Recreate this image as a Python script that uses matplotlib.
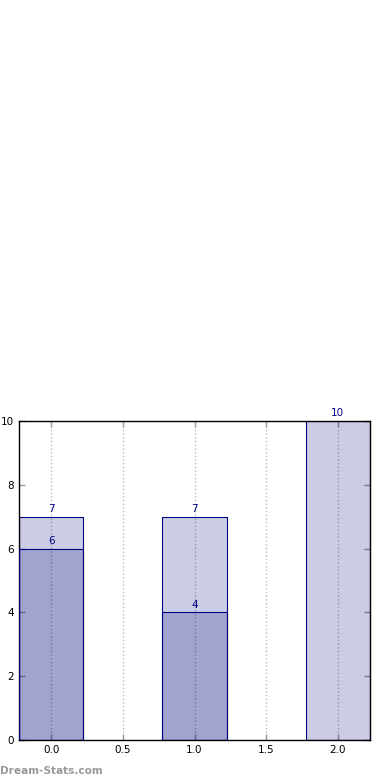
import matplotlib
matplotlib.use("Agg")
import matplotlib.pyplot as plt

positions = [0, 1, 2]
total_values = [7, 7, 10]
sub_values = [6, 4, 0]
xticks = [0.0, 0.5, 1.0, 1.5, 2.0]
yticks = [0, 2, 4, 6, 8, 10]

fig = plt.figure(figsize=(3.9, 7.8), dpi=100)
ax = fig.add_axes([19/390, 1 - 740/780, (370-19)/390, (740-421)/780])

w = 0.45
ax.bar(positions, total_values, width=w, color=(0, 0, 0.5, 0.2), edgecolor='navy', linewidth=0.8, zorder=2)
ax.bar(positions, sub_values, width=w, color=(0, 0, 0.5, 0.2), edgecolor='navy', linewidth=0.8, zorder=3)

for x, v in zip(positions, total_values):
    ax.text(x, v + 0.08, str(v), ha='center', va='bottom', color='navy', fontsize=7.5, zorder=5)
for x, v in zip(positions, sub_values):
    if v > 0:
        ax.text(x, v + 0.08, str(v), ha='center', va='bottom', color='navy', fontsize=7.5, zorder=5)

ax.set_xlim(-0.225, 2.225)
ax.set_ylim(0, 10)
ax.set_xticks(xticks)
ax.set_xticklabels([f"{t:.1f}" for t in xticks])
ax.set_yticks(yticks)
ax.tick_params(direction='in', top=True, right=True, labelsize=7.5, length=4, color='#999999', width=1)
ax.xaxis.grid(True, linestyle=':', color='#bbbbbb', linewidth=1, zorder=1)
ax.set_axisbelow(True)
for s in ax.spines.values():
    s.set_color('black')
    s.set_linewidth(1)

fig.text(0/390, 1 - 771/780, "Dream-Stats.com", color='#999999', fontsize=7.6, fontweight='bold', ha='left', va='center')

fig.savefig("out.png", dpi=100)
